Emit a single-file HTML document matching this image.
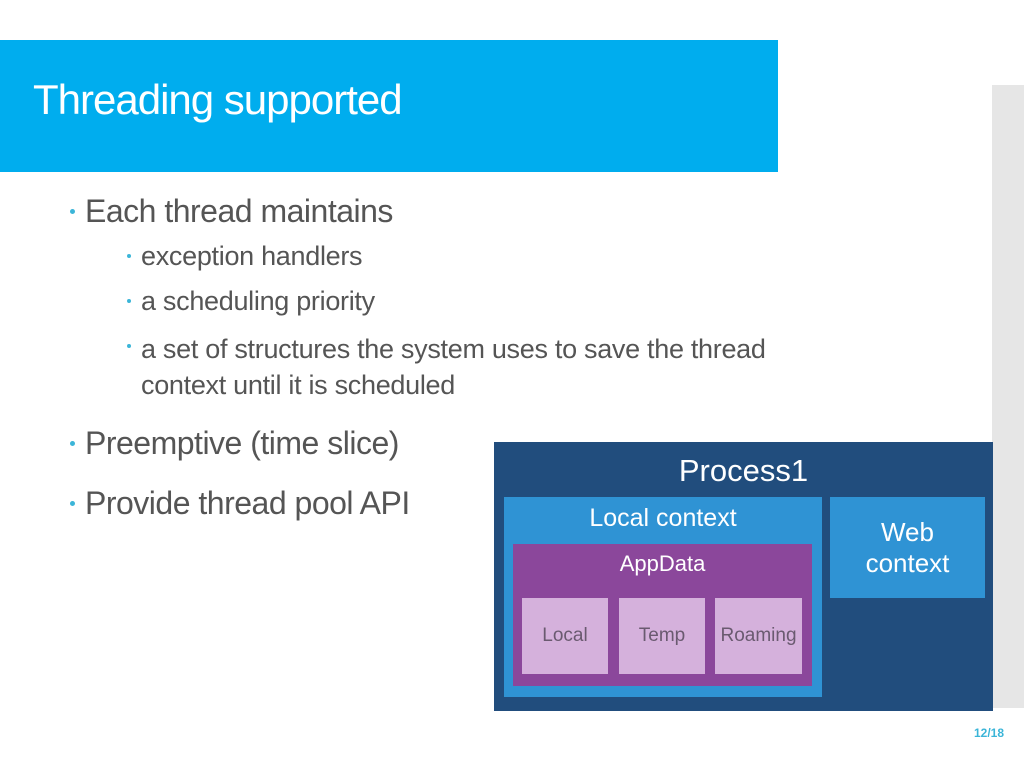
<!DOCTYPE html>
<html><head><meta charset="utf-8"><style>
body{margin:0;width:1024px;height:768px;background:#fff;position:relative;overflow:hidden;font-family:"Liberation Sans",sans-serif;}
.a{position:absolute;}
.t{color:#555;white-space:nowrap;}
.dot{position:absolute;width:5px;height:5px;border-radius:50%;background:#3bb5d8;}
.c{display:flex;align-items:center;justify-content:center;text-align:center;}
</style></head><body>
<div class="a" style="left:992px;top:85px;width:32px;height:623px;background:#e6e6e6"></div>
<div class="a" style="left:0;top:40px;width:778px;height:132px;background:#00adee"></div>
<div class="a" style="left:33px;top:76px;font-size:42px;color:#fff;letter-spacing:-1px">Threading supported</div>

<div class="dot" style="left:70px;top:209px"></div>
<div class="a t" style="left:85px;top:193px;font-size:32px;letter-spacing:-0.5px">Each thread maintains</div>
<div class="dot" style="left:127px;top:254px;width:4px;height:4px"></div>
<div class="a t" style="left:141px;top:241px;font-size:27px;letter-spacing:-0.3px">exception handlers</div>
<div class="dot" style="left:127px;top:299px;width:4px;height:4px"></div>
<div class="a t" style="left:141px;top:286px;font-size:27px;letter-spacing:-0.3px">a scheduling priority</div>
<div class="dot" style="left:127px;top:344px;width:4px;height:4px"></div>
<div class="a t" style="left:141px;top:331px;font-size:27px;letter-spacing:-0.3px;line-height:36px">a set of structures the system uses to save the thread<br>context until it is scheduled</div>
<div class="dot" style="left:70px;top:441px"></div>
<div class="a t" style="left:85px;top:425px;font-size:32px;letter-spacing:-0.5px">Preemptive (time slice)</div>
<div class="dot" style="left:70px;top:501px"></div>
<div class="a t" style="left:85px;top:485px;font-size:32px;letter-spacing:-0.5px">Provide thread pool API</div>

<div class="a" style="left:494px;top:442px;width:499px;height:269px;background:#214d7d"></div>
<div class="a c" style="left:494px;top:450px;width:499px;height:42px;color:#fff;font-size:31px">Process1</div>
<div class="a" style="left:504px;top:497px;width:318px;height:200px;background:#2f93d4"></div>
<div class="a c" style="left:504px;top:500px;width:318px;height:36px;color:#fff;font-size:25px">Local context</div>
<div class="a" style="left:513px;top:544px;width:299px;height:142px;background:#8b479b"></div>
<div class="a c" style="left:513px;top:548px;width:299px;height:32px;color:#fff;font-size:22px">AppData</div>
<div class="a c" style="left:522px;top:598px;width:86px;height:76px;background:#d5b1dc;color:#6a5a70;font-size:19px">Local</div>
<div class="a c" style="left:619px;top:598px;width:86px;height:76px;background:#d5b1dc;color:#6a5a70;font-size:19px">Temp</div>
<div class="a c" style="left:715px;top:598px;width:87px;height:76px;background:#d5b1dc;color:#6a5a70;font-size:19px">Roaming</div>
<div class="a c" style="left:830px;top:497px;width:155px;height:101px;background:#2f93d4;color:#fff;font-size:26px;line-height:31px">Web<br>context</div>

<div class="a" style="left:974px;top:726px;font-size:12px;font-weight:bold;color:#3bb5d8">12/18</div>
</body></html>
